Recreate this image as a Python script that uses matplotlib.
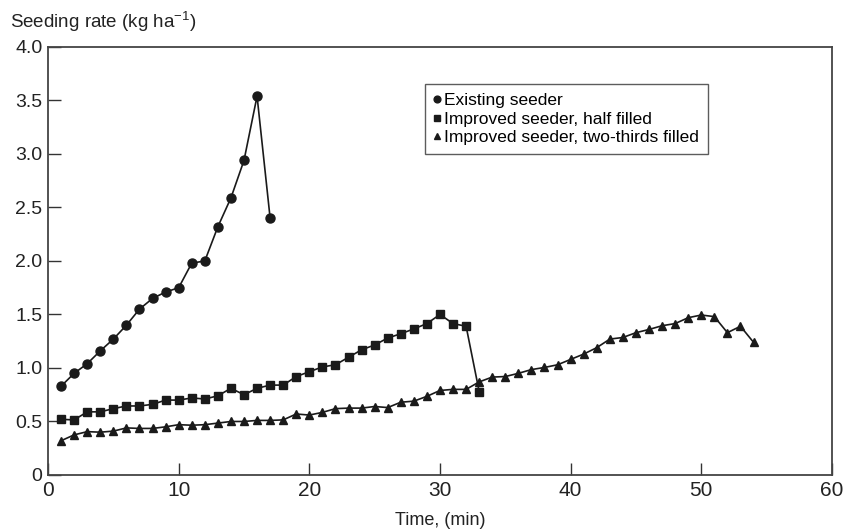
import numpy as np
import matplotlib.pyplot as plt
from matplotlib import font_manager

# Existing seeder (1-17 min)
t_existing = list(range(1, 18))
rate_existing = [0.83, 0.95, 1.04, 1.16, 1.27, 1.40, 1.55, 1.65, 1.71, 1.75,
                 1.98, 2.00, 2.32, 2.59, 2.94, 3.54, 2.40]

# Improved seeder, half filled (1-33 min)
t_half = list(range(1, 34))
rate_half = [0.52, 0.515, 0.59, 0.59, 0.62, 0.645, 0.645, 0.66, 0.70, 0.70,
             0.72, 0.71, 0.74, 0.81, 0.75, 0.81, 0.84, 0.84, 0.92, 0.965,
             1.01, 1.03, 1.10, 1.17, 1.215, 1.28, 1.32, 1.365, 1.415, 1.50,
             1.415, 1.39, 0.78]

# Improved seeder, two-thirds filled (1-54 min)
t_two = list(range(1, 55))
rate_two = [0.32, 0.375, 0.405, 0.40, 0.41, 0.44, 0.435, 0.435, 0.45, 0.47,
            0.465, 0.47, 0.485, 0.50, 0.50, 0.51, 0.51, 0.515, 0.57, 0.56,
            0.585, 0.62, 0.625, 0.625, 0.64, 0.63, 0.68, 0.69, 0.735, 0.79,
            0.80, 0.80, 0.87, 0.915, 0.92, 0.95, 0.985, 1.005, 1.03, 1.08,
            1.13, 1.19, 1.27, 1.285, 1.33, 1.36, 1.395, 1.415, 1.47, 1.495,
            1.48, 1.33, 1.39, 1.24]

labels = ["Existing seeder", "Improved seeder, half filled",
          "Improved seeder, two-thirds filled"]

installed = {f.name for f in font_manager.fontManager.ttflist}
narrow = "Liberation Sans Narrow" if "Liberation Sans Narrow" in installed else "Liberation Sans"
plt.rcParams['font.family'] = ['Liberation Sans', 'DejaVu Sans']
plt.rcParams['mathtext.fontset'] = 'custom'
plt.rcParams['mathtext.rm'] = 'Liberation Sans'

ink = '#1a1a1a'
fig = plt.figure(figsize=(8.47, 5.31), dpi=100)
ax = fig.add_axes([0.0567, 0.1055, 0.9255, 0.806])

ax.plot(t_existing, rate_existing, color=ink, lw=1.2, marker='o', ms=6.5, label=labels[0])
ax.plot(t_half, rate_half, color=ink, lw=1.2, marker='s', ms=5.5, label=labels[1])
ax.plot(t_two, rate_two, color=ink, lw=1.2, marker='^', ms=5.5, label=labels[2])

ax.set_xlim(0, 60)
ax.set_ylim(0, 4.0)
ax.set_xticks(range(0, 61, 10))
ax.set_yticks(np.arange(0, 4.01, 0.5))
ax.set_yticklabels(['0'] + [f"{v:.1f}" for v in np.arange(0.5, 4.01, 0.5)])
ax.tick_params(direction='in', length=9, width=1, color='#333333',
               labelsize=14, labelcolor='#222222')
ax.tick_params(axis='y', pad=4)
ax.tick_params(axis='x', pad=4)
for lab in ax.get_xticklabels():
    lab.set_fontfamily(narrow)
    lab.set_fontsize(15)
for s in ax.spines.values():
    s.set_color('#444444')
    s.set_linewidth(1.3)

ax.set_xlabel("Time, (min)", fontsize=13, family=narrow, color='#222222', labelpad=9)
fig.text(0.012, 0.948, "Seeding rate (kg ha$^{-1}$)", fontsize=13.5, color='#222222',
         ha='left', va='baseline')

leg = ax.legend(loc='upper left', bbox_to_anchor=(0.481, 0.913), borderaxespad=0,
                fontsize=12.5, handlelength=0.35, handletextpad=0.25,
                borderpad=0.5, labelspacing=0.2, frameon=True, fancybox=False,
                markerscale=0.75)
leg.get_frame().set_edgecolor('#333333')
leg.get_frame().set_linewidth(1.0)
for h in leg.legend_handles:
    h.set_linestyle('None')

fig.savefig("out.png", dpi=100)
